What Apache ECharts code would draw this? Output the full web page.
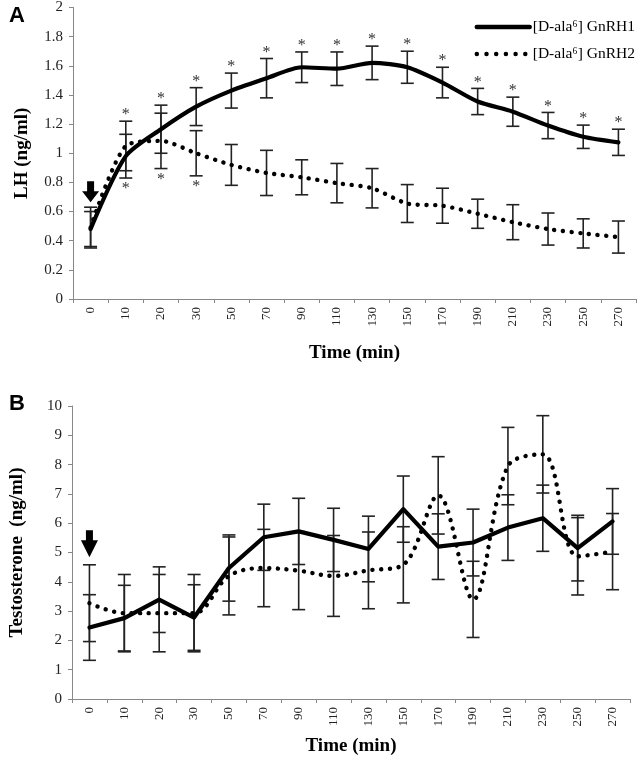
<!DOCTYPE html>
<html>
<head>
<meta charset="utf-8">
<script src="https://cdn.jsdelivr.net/npm/echarts@6/dist/echarts.min.js"></script>
<style>
html,body{margin:0;padding:0;background:#fff;}
#chart{width:642px;height:768px;}
</style>
</head>
<body>
<div id="chart"></div>
<script>
// ---- data ----
const categories = ['0','10','20','30','50','70','90','110','130','150','170','190','210','230','250','270'];
const seriesNames = ['[D-ala\u2076] GnRH1', '[D-ala\u2076] GnRH2'];

// Panel A: LH (ng/ml)
const lh1    = [0.48, 0.98, 1.165, 1.32, 1.43, 1.515, 1.59, 1.58, 1.62, 1.59, 1.485, 1.355, 1.285, 1.19, 1.113, 1.075];
const lh1Err = [0.12, 0.15, 0.165, 0.13, 0.12, 0.135, 0.105, 0.115, 0.115, 0.11, 0.105, 0.09, 0.10, 0.09, 0.08, 0.09];
const lh2    = [0.49, 1.05, 1.085, 1.00, 0.92, 0.865, 0.835, 0.795, 0.76, 0.655, 0.64, 0.585, 0.527, 0.48, 0.45, 0.425];
const lh2Err = [0.14, 0.17, 0.19, 0.155, 0.14, 0.155, 0.12, 0.135, 0.135, 0.13, 0.12, 0.10, 0.12, 0.11, 0.10, 0.11];
const lhStarAbove = [0,1,1,1,1,1,1,1,1,1,1,1,1,1,1,1];
const lhStarBelow = [0,1,1,1,0,0,0,0,0,0,0,0,0,0,0,0];
const lhTicks = {min: 0, max: 2, interval: 0.2};

// Panel B: Testosterone (ng/ml)
const t1    = [2.44, 2.76, 3.39, 2.78, 4.47, 5.52, 5.72, 5.43, 5.12, 6.48, 5.20, 5.34, 5.85, 6.17, 5.15, 6.06];
const t1Err = [1.12, 1.12, 1.12, 1.12, 1.13, 1.13, 1.13, 1.08, 1.12, 1.13, 1.12, 1.14, 1.12, 1.13, 1.12, 1.12];
const t2    = [3.27, 2.93, 2.93, 2.93, 4.20, 4.47, 4.38, 4.20, 4.39, 4.58, 6.95, 3.40, 7.95, 8.35, 4.87, 5.03];
const t2Err = [1.31, 1.32, 1.32, 1.32, 1.33, 1.32, 1.33, 1.38, 1.31, 1.30, 1.32, 1.30, 1.32, 1.32, 1.32, 1.30];
const tTicks = {min: 0, max: 10, interval: 1};

// injection arrows (value of arrow centre at time 0)
const arrowA = 0.735;
const arrowB = 5.3;

// ---- helpers ----
const SERIF = '"Liberation Serif", "Times New Roman", serif';
function errData(mean, err){ return mean.map((m,i)=>[i, m-err[i], m+err[i]]); }
function errRender(params, api){
  const x = api.value(0);
  const pLo = api.coord([x, api.value(1)]);
  const pHi = api.coord([x, api.value(2)]);
  const w = 6.5;
  const st = {stroke:'#222', lineWidth:1.6};
  return {type:'group', children:[
    {type:'line', shape:{x1:pLo[0],y1:pLo[1],x2:pHi[0],y2:pHi[1]}, style:st},
    {type:'line', shape:{x1:pHi[0]-w,y1:pHi[1],x2:pHi[0]+w,y2:pHi[1]}, style:st},
    {type:'line', shape:{x1:pLo[0]-w,y1:pLo[1],x2:pLo[0]+w,y2:pLo[1]}, style:st}
  ]};
}
const starAboveData = [];
const starBelowData = [];
lhStarAbove.forEach((f,i)=>{ if(f) starAboveData.push([i, Math.max(lh1[i]+lh1Err[i], lh2[i]+lh2Err[i])]); });
lhStarBelow.forEach((f,i)=>{ if(f) starBelowData.push([i, Math.min(lh1[i]-lh1Err[i], lh2[i]-lh2Err[i])]); });
function starRender(dy){
  return function(params, api){
    const p = api.coord([api.value(0), api.value(1)]);
    return {type:'text', x:p[0], y:p[1]+dy, style:{text:'*', fill:'#333', font:'16px ' + SERIF, align:'center', verticalAlign:'middle'}};
  };
}

function xAxisDef(gi, gap){
  return {
    type:'category', gridIndex:gi, data:categories, boundaryGap:true,
    name:'Time (min)', nameLocation:'middle', nameGap:gap,
    nameTextStyle:{fontFamily:SERIF, fontWeight:'bold', fontSize:19, color:'#000'},
    axisLine:{lineStyle:{color:'#888', width:1}},
    axisTick:{show:true, length:4, lineStyle:{color:'#888'}},
    axisLabel:{rotate:90, interval:0, fontFamily:SERIF, fontSize:13, color:'#222', margin:8}
  };
}
function yAxisDef(gi, ticks, name, gap){
  return {
    type:'value', gridIndex:gi, min:ticks.min, max:ticks.max, interval:ticks.interval,
    name:name, nameLocation:'middle', nameGap:gap, nameRotate:90,
    nameTextStyle:{fontFamily:SERIF, fontWeight:'bold', fontSize:19, color:'#000'},
    axisLine:{show:true, lineStyle:{color:'#888', width:1}},
    axisTick:{show:true, length:4, lineStyle:{color:'#888'}},
    splitLine:{show:false},
    axisLabel:{fontFamily:SERIF, fontSize:15, color:'#222', margin:10}
  };
}

const arrowPathA = 'path://M5,0 L12,0 L12,10 L17,10 L8.5,21 L0,10 L5,10 Z';
const arrowPathB = 'path://M5,0 L12,0 L12,10 L17,10 L8.5,27 L0,10 L5,10 Z';

const solidStyle = {color:'#000', width:4.2, type:'solid', cap:'round', join:'round'};
const dotStyle = {color:'#000', width:4.4, type:[0.1, 8.6], cap:'round', join:'round'};

const option = {
  animation:false,
  backgroundColor:'#fff',
  grid:[
    {left:73, top:7, width:563, height:292},
    {left:67, top:406, width:563, height:293}
  ],
  legend:{
    data:[
      {name:seriesNames[0]},
      {name:seriesNames[1], lineStyle:{type:[0.1, 9.6]}}
    ],
    orient:'vertical', right:2, top:14,
    itemWidth:53, itemHeight:14, itemGap:11, selectedMode:false,
    itemStyle:{opacity:0},
    lineStyle:{width:4.4},
    textStyle:{fontFamily:SERIF, fontSize:15.5, color:'#000', padding:[0,0,0,-2]}
  },
  graphic:[
    {type:'text', left:9, top:5, style:{text:'A', font:'bold 22px "Liberation Sans", Arial, sans-serif', fill:'#000'}},
    {type:'text', left:9, top:393, style:{text:'B', font:'bold 22px "Liberation Sans", Arial, sans-serif', fill:'#000'}}
  ],
  xAxis:[ xAxisDef(0, 45), xAxisDef(1, 38) ],
  yAxis:[ yAxisDef(0, lhTicks, 'LH (ng/ml)', 41), yAxisDef(1, tTicks, 'Testosterone  (ng/ml)', 45) ],
  series:[
    {type:'custom', xAxisIndex:0, yAxisIndex:0, renderItem:errRender, data:errData(lh1, lh1Err), encode:{x:0,y:[1,2]}, z:1, silent:true},
    {type:'custom', xAxisIndex:0, yAxisIndex:0, renderItem:errRender, data:errData(lh2, lh2Err), encode:{x:0,y:[1,2]}, z:1, silent:true},
    {type:'custom', xAxisIndex:0, yAxisIndex:0, renderItem:starRender(-6), data:starAboveData, encode:{x:0,y:1}, z:3, silent:true},
    {type:'custom', xAxisIndex:0, yAxisIndex:0, renderItem:starRender(11), data:starBelowData, encode:{x:0,y:1}, z:3, silent:true},
    {name:seriesNames[0], type:'line', xAxisIndex:0, yAxisIndex:0, data:lh1, symbol:'none', smooth:0.25, lineStyle:solidStyle, z:2,
      markPoint:{symbol:arrowPathA, symbolSize:[17,21], itemStyle:{color:'#000'}, label:{show:false}, silent:true,
        data:[{coord:['0', arrowA]}]}},
    {name:seriesNames[1], type:'line', xAxisIndex:0, yAxisIndex:0, data:lh2, symbol:'none', smooth:0.25, lineStyle:dotStyle, z:2},

    {type:'custom', xAxisIndex:1, yAxisIndex:1, renderItem:errRender, data:errData(t1, t1Err), encode:{x:0,y:[1,2]}, z:1, silent:true},
    {type:'custom', xAxisIndex:1, yAxisIndex:1, renderItem:errRender, data:errData(t2, t2Err), encode:{x:0,y:[1,2]}, z:1, silent:true},
    {name:seriesNames[0], type:'line', xAxisIndex:1, yAxisIndex:1, data:t1, symbol:'none', smooth:false, lineStyle:solidStyle, z:2,
      markPoint:{symbol:arrowPathB, symbolSize:[17,27], itemStyle:{color:'#000'}, label:{show:false}, silent:true,
        data:[{coord:['0', arrowB]}]}},
    {name:seriesNames[1], type:'line', xAxisIndex:1, yAxisIndex:1, data:t2, symbol:'none', smooth:0.35, lineStyle:dotStyle, z:2}
  ]
};
const chart = echarts.init(document.getElementById('chart'), null, {renderer:'canvas'});
chart.setOption(option);
</script>
</body>
</html>
